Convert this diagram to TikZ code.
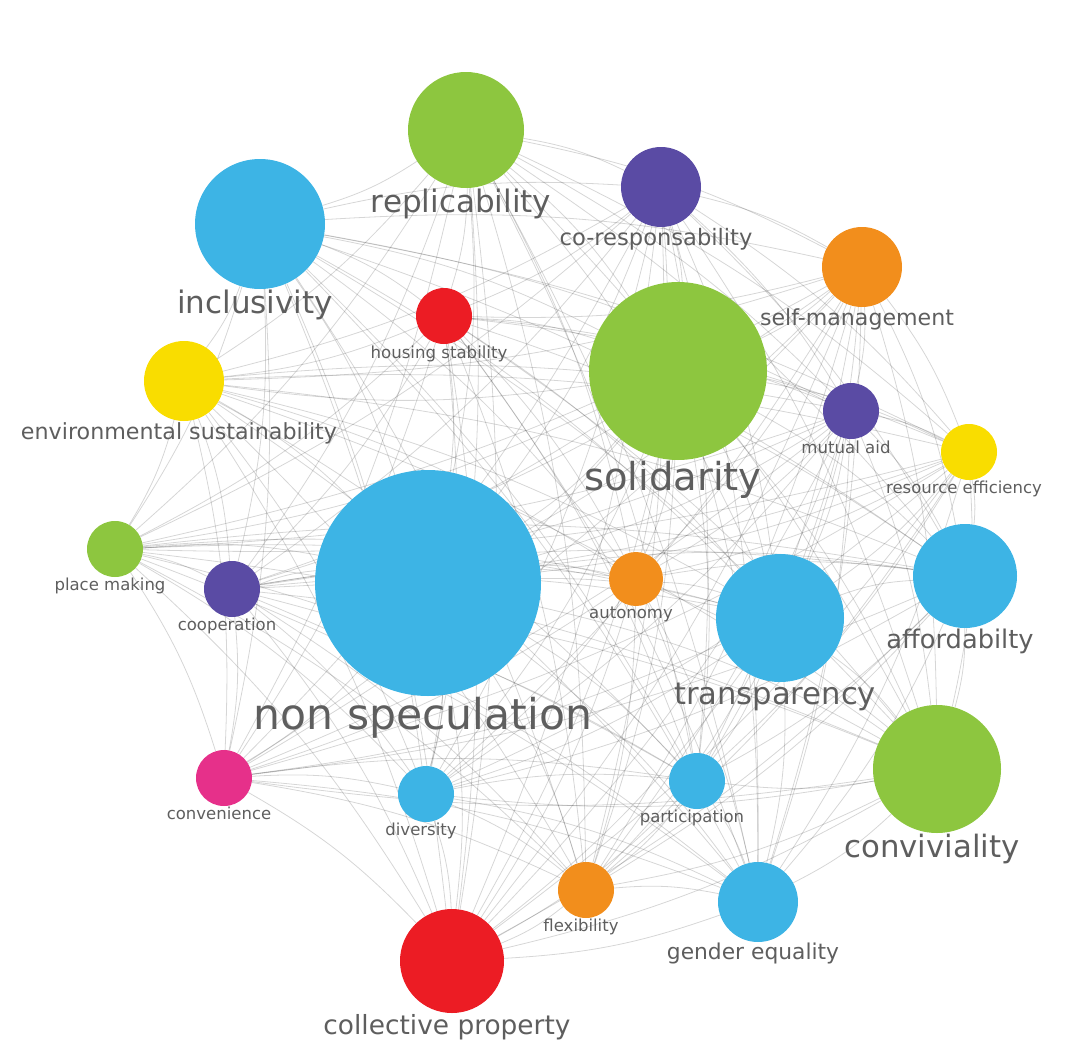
\documentclass[tikz,border=0pt]{standalone}
\usepackage{fontspec}
\setmainfont{DejaVu Sans}
\usetikzlibrary{backgrounds}

\definecolor{cblue}{HTML}{3DB4E5}
\definecolor{cgreen}{HTML}{8DC63F}
\definecolor{cpurple}{HTML}{5A4BA4}
\definecolor{corange}{HTML}{F28E1C}
\definecolor{cred}{HTML}{EC1C24}
\definecolor{cyellow}{HTML}{F9DD00}
\definecolor{cpink}{HTML}{E6308A}
\definecolor{txtgray}{HTML}{5E5E5E}

\def\nodelist{repl,incl,coresp,selfman,housing,solid,envsust,mutual,resource,placemk,coop,nonspec,auton,transp,afford,conviv,conven,divers,partic,flex,gender,collprop}

\begin{document}
\begin{tikzpicture}[x=1pt, y=-1pt,
    bubble/.style={circle, inner sep=0pt, minimum size=2*#1},
    lbl/.style={text=txtgray, inner sep=0pt, xshift=-5pt, label distance=1pt,
        font=\fontsize{#1}{#1}\selectfont},
    link/.style={draw=black, opacity=0.16, line width=0.8pt, bend left=8}]
    \useasboundingbox (0,0) rectangle (1068,1052);

    % Большие узлы
    \node[bubble=113, fill=cblue, label={[lbl=42.5]below:non speculation}] (nonspec) at (428,583) {};
    \node[bubble=89, fill=cgreen, label={[lbl=38.5]below:solidarity}] (solid) at (678,371) {};
    \node[bubble=65, fill=cblue, label={[lbl=31]below:inclusivity}] (incl) at (260,224) {};
    \node[bubble=64, fill=cblue, label={[lbl=30.6]below:transparency}] (transp) at (780,618) {};
    \node[bubble=64, fill=cgreen, label={[lbl=30.8]below:conviviality}] (conviv) at (937,769) {};
    \node[bubble=58, fill=cgreen, label={[lbl=31]below:replicability}] (repl) at (466,130) {};
    \node[bubble=52, fill=cblue, label={[lbl=25.7]below:affordabilty}] (afford) at (965,576) {};
    \node[bubble=52, fill=cred, label={[lbl=26.4]below:collective property}] (collprop) at (452,961) {};

    % Средние узлы
    \node[bubble=40, fill=cpurple, label={[lbl=22.6]below:co-responsability}] (coresp) at (661,187) {};
    \node[bubble=40, fill=corange, label={[lbl=22.1]below:self-management}] (selfman) at (862,267) {};
    \node[bubble=40, fill=cyellow, label={[lbl=22.2]below:environmental sustainability}] (envsust) at (184,381) {};
    \node[bubble=40, fill=cblue, label={[lbl=21.8]below:gender equality}] (gender) at (758,902) {};

    % Малые узлы
    \node[bubble=28, fill=cred, label={[lbl=16.6]below:housing stability}] (housing) at (444,316) {};
    \node[bubble=28, fill=cpurple, label={[lbl=16.6]below:mutual aid}] (mutual) at (851,411) {};
    \node[bubble=28, fill=cyellow, label={[lbl=16.5]below:resource efficiency}] (resource) at (969,452) {};
    \node[bubble=28, fill=cgreen, label={[lbl=16.5]below:place making}] (placemk) at (115,549) {};
    \node[bubble=28, fill=cpurple, label={[lbl=16.5]below:cooperation}] (coop) at (232,589) {};
    \node[bubble=27, fill=corange, label={[lbl=16.5]below:autonomy}] (auton) at (636,579) {};
    \node[bubble=28, fill=cpink, label={[lbl=16.5]below:convenience}] (conven) at (224,778) {};
    \node[bubble=28, fill=cblue, label={[lbl=16.5]below:diversity}] (divers) at (426,794) {};
    \node[bubble=28, fill=cblue, label={[lbl=16.5]below:participation}] (partic) at (697,781) {};
    \node[bubble=28, fill=corange, label={[lbl=16.5]below:flexibility}] (flex) at (586,890) {};

    % Рёбра под узлами
    \begin{pgfonlayer}{background}
        \foreach \a [count=\i] in \nodelist {
            \foreach \b [count=\j] in \nodelist {
                \ifnum\j>\i \draw[link] (\a) to (\b); \fi
            }
        }
    \end{pgfonlayer}
\end{tikzpicture}
\end{document}
